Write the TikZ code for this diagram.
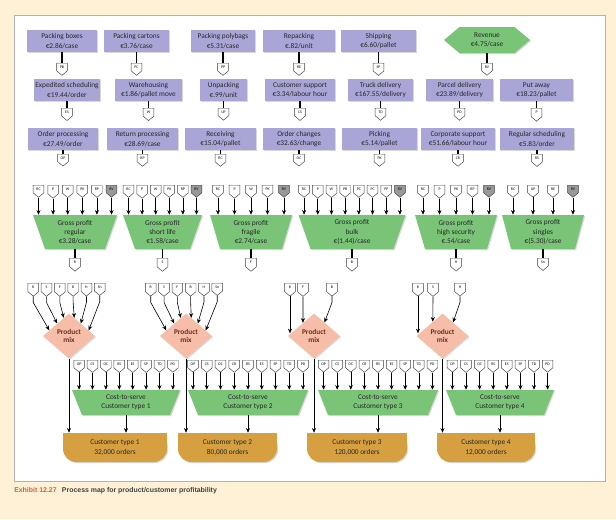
\documentclass[tikz,border=0pt]{standalone}
\usepackage{fontspec}
\setmainfont{Carlito}
\newfontfamily\capfont{Liberation Sans}
\usetikzlibrary{arrows.meta,shapes.geometric,shapes.symbols,shadows,calc}
\definecolor{bgcream}{RGB}{255,241,214}
\definecolor{procblue}{RGB}{170,165,215}
\definecolor{gpgreen}{RGB}{122,196,120}
\definecolor{mixpink}{RGB}{246,190,168}
\definecolor{mixtext}{RGB}{110,45,30}
\definecolor{custgold}{RGB}{214,160,64}
\definecolor{exhorange}{RGB}{204,102,51}
\tikzset{
  softshadow/.style={drop shadow={shadow xshift=0.8pt,shadow yshift=-0.8pt,opacity=0.3}},
  proc/.style={rectangle, fill=procblue, softshadow, minimum height=16.5pt, inner sep=1pt,
    align=center, text=black!85, font=\fontsize{5.5}{7}\selectfont},
  revhex/.style={shape=signal, signal to=east and west, signal pointer angle=80, fill=gpgreen,
    softshadow, minimum width=64.5pt, minimum height=19.5pt, inner sep=1pt, align=center,
    text=black!85, font=\fontsize{5.5}{7}\selectfont},
  tagbox/.style={shape=signal, signal to=south, signal pointer angle=100, anchor=north,
    draw=black!75, fill=white, line width=0.35pt, minimum width=8pt, minimum height=7pt,
    inner sep=0pt, font=\fontsize{2.9}{3}\selectfont},
  tagRV/.style={fill=black!40},
  stub/.style={line width=0.9pt},
  arr/.style={line width=0.45pt, -{Stealth[length=3.5pt,width=3pt]}},
  gptext/.style={rectangle, align=center, inner sep=0pt, text=black!85,
    font=\fontsize{5.5}{6.8}\selectfont},
  mixbox/.style={shape=diamond, fill=mixpink, softshadow, minimum width=39pt, minimum height=33.75pt,
    aspect=1.15, inner sep=0pt, align=center, text=mixtext, font=\bfseries\fontsize{5.5}{6.5}\selectfont},
  custbox/.style={rectangle, align=center, minimum height=21.75pt, inner sep=0pt, text=black!85,
    font=\fontsize{5.5}{7}\selectfont}
}
\begin{document}
\begin{tikzpicture}[x=0.75pt,y=-0.75pt]
  \useasboundingbox (0,0) rectangle (616,519);
  \fill[bgcream] (0,0) rectangle (616,519);
  \draw[black!30, fill=white] (14,15) rectangle (605,481);
  % activity cost pools
  \foreach \n/\x/\y/\ty/\w/\tg/\txt in {
    pb/62/41/63/70/PB/{Packing boxes\\€2.86/case},
    pc/136.5/41/63/65/PC/{Packing cartons\\€3.76/case},
    pp/223/41/63/64/PP/{Packing polybags\\€5.31/case},
    re/299/41/63/72/RE/{Repacking\\€.82/unit},
    sp/378.5/41/63/75/SP/{Shipping\\€6.60/pallet},
    es/67/90/108/66/ES/{Expedited scheduling\\€19.44/order},
    wh/148.5/90/108/67/W/{Warehousing\\€1.86/pallet move},
    up/223.5/90/108/47/UP/{Unpacking\\€.99/unit},
    cs/300/90/108/70/CS/{Customer support\\€3.34/labour hour},
    td/380.5/90/108/65/TD/{Truck delivery\\€167.55/delivery},
    pd/459.5/90/108/67/PD/{Parcel delivery\\€23.89/delivery},
    pa/536.5/90/108/73/P/{Put away\\€18.23/pallet},
    op/63/139/154/70/OP/{Order processing\\€27.49/order},
    rp/142.5/139/154/71/RP/{Return processing\\€28.69/case},
    rc/220.5/139/154/71/RC/{Receiving\\€15.04/pallet},
    oc/299/139/154/72/OC/{Order changes\\€32.63/change},
    pk/379.5/139/154/75/PK/{Picking\\€5.14/pallet},
    cr/458/139/154/74/CR/{Corporate support\\€51.66/labour hour},
    rs/537/139/154/74/RS/{Regular scheduling\\€5.83/order}}
  {
    \node[proc, minimum width=\w*0.75pt] (\n) at (\x,\y) {\txt};
    \node[tagbox] (\n-tag) at (\x,\ty) {\tg};
    \draw[stub] (\n.south) -- (\n-tag.north);
  }
  \node[revhex] (rv) at (487,40) {Revenue\\€4.75/case};
  \node[tagbox] (rv-tag) at (487,63) {RV};
  \draw[stub] (rv.south) -- (rv-tag.north);
  % gross profit per product
  \foreach \g/\x/\wt/\wb/\dx/\n/\lst/\out/\txt in {
    r/75/84/60/14.6/6/{RC,P,W,PK,RP,RV}/R/{Gross profit\\regular\\€3.28/case},
    s/162.5/79/55/13.6/6/{RC,P,W,PK,RP,RV}/S/{Gross profit\\short life\\€1.58/case},
    f/251/82/62/16.5/5/{RC,P,W,PK,RV}/F/{Gross profit\\fragile\\€2.74/case},
    b/352/107/83/13.7/8/{RC,P,W,PB,PC,PC,PP,RV}/B/{Gross profit\\bulk\\€(1.44)/case},
    h/456/82/62/16.5/5/{RC,P,PK,RP,RV}/H/{Gross profit\\high security\\€.54/case},
    sn/543/82/64/20/4/{RC,UP,RE,RV}/Sn/{Gross profit\\singles\\€(5.30)/case}}
  {
    \fill[gpgreen, softshadow] (\x-\wt/2,215) -- (\x+\wt/2,215) -- (\x+\wb/2,249) -- (\x-\wb/2,249) -- cycle;
    \node[gptext, minimum width=\wt*0.75pt, minimum height=25.5pt] (gp\g) at (\x,232) {\txt};
    \foreach \lab [count=\i] in \lst {
      \node[tagbox, tag\lab/.try] (gp\g-\i) at ({\x+(\i-(\n+1)/2)*\dx},185) {\lab};
      \draw[arr] (gp\g-\i.south) -- (gp\g-\i.south |- gp\g.north);
    }
    \node[tagbox] (gp\g-out) at (\x,258) {\out};
    \draw[stub] (gp\g.south) -- (gp\g-out.north);
  }
  % product mix
  \foreach \p/\x in {1/69,2/186,3/314,4/442.5}
    \node[mixbox] (pm\p) at (\x,336) {Product\\mix};
  \foreach \p/\x in {1/66.5,2/184}{
    \foreach \lab/\side/\f [count=\i] in {R/west/0.75,S/west/0.45,F/west/0.2,B/east/0.2,H/east/0.45,Sn/east/0.75}{
      \node[tagbox] (pm\p-\i) at ({\x+(\i-3.5)*13.3},283) {\lab};
      \draw[arr] (pm\p-\i.south) -- ++(0,6) -- ($(pm\p.north)!\f!(pm\p.\side)$);
    }
  }
  \node[tagbox] (pm3-1) at (290,283) {R};
  \node[tagbox] (pm3-2) at (303,283) {F};
  \node[tagbox] (pm3-3) at (332,283) {B};
  \draw[arr, shorten >=2pt] (pm3-1.south) -- (pm3-1.south |- pm3.west);
  \draw[arr] (pm3-2.south) -- ($(pm3.north)!0.42!(pm3.west)$);
  \draw[arr] (pm3-3.south) -- ++(0,6) -- ($(pm3.north)!0.4!(pm3.east)$);
  \node[tagbox] (pm4-1) at (418,283) {R};
  \node[tagbox] (pm4-2) at (433,283) {S};
  \node[tagbox] (pm4-3) at (460,283) {H};
  \draw[arr, shorten >=2pt] (pm4-1.south) -- (pm4-1.south |- pm4.west);
  \draw[arr] (pm4-2.south) -- ($(pm4.north)!0.37!(pm4.west)$);
  \draw[arr] (pm4-3.south) -- ++(0,6) -- ($(pm4.north)!0.4!(pm4.east)$);
  % customer types
  \foreach \q/\x/\w/\ord in {1/115/104/{32,000},2/227.5/99/{80,000},3/357/100/{120,000},4/486/98/{12,000}}
  {
    \fill[custgold, softshadow, rounded corners=10pt] (\x-\w/2,433) rectangle (\x+\w/2,462);
    \fill[custgold] (\x-\w/2,433) rectangle (\x+\w/2,447);
    \node[custbox, minimum width=\w*0.75pt] (ct\q) at (\x,447.5) {Customer type \q\\\ord\ orders};
  }
  % cost to serve
  \foreach \q/\x/\wt/\wb/\dx/\n/\lst in {
    1/126/108/88/13.4/8/{OP,CS,OC,RS,ES,SP,TD,PD},
    2/248/120/100/13.75/9/{OP,CS,OC,CR,RS,ES,SP,TD,PD},
    3/378/120/100/13.6/9/{OP,CS,OC,CR,RS,ES,SP,TD,PD},
    4/500/108/88/13.6/8/{OP,CS,OC,RS,ES,SP,TD,PD}}
  {
    \fill[gpgreen, softshadow] (\x-\wt/2,390) -- (\x+\wt/2,390) -- (\x+\wb/2,415) -- (\x-\wb/2,415) -- cycle;
    \node[gptext, minimum width=\wt*0.75pt, minimum height=18.75pt] (cts\q) at (\x,402.5) {Cost-to-serve\\Customer type \q};
    \foreach \lab [count=\i] in \lst {
      \node[tagbox] (cts\q-\i) at ({\x+(\i-(\n+1)/2)*\dx},360) {\lab};
      \draw[arr] (cts\q-\i.south) -- (cts\q-\i.south |- cts\q.north);
    }
    \draw[arr] (cts\q.south) -- (cts\q.south |- ct\q.north);
    \draw[arr, line width=0.6pt] (pm\q.south) -- (pm\q.south |- ct\q.north);
  }
  \node[anchor=west, inner sep=0pt, text=black!75, font=\capfont\bfseries\fontsize{5.2}{6}\selectfont]
    (caption) at (14,491) {\textcolor{exhorange}{Exhibit 12.27}\hspace{4pt}Process map for product/customer profitability};
\end{tikzpicture}
\end{document}
